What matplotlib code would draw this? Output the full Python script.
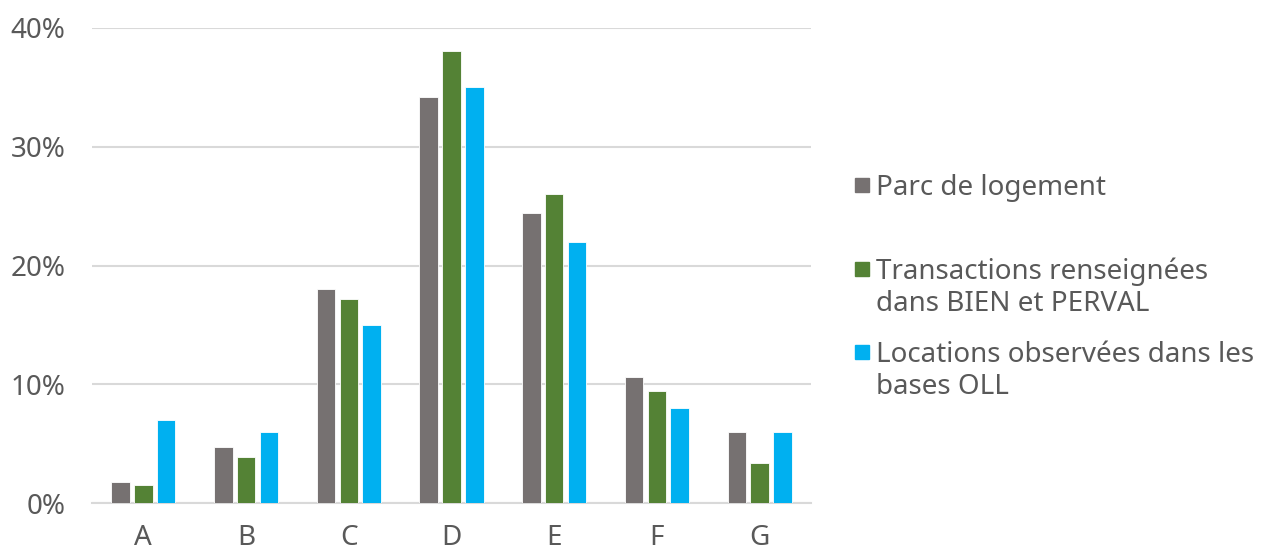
import numpy as np
import matplotlib
matplotlib.use("Agg")
import matplotlib.pyplot as plt
from matplotlib.patches import Rectangle

categories = ["A", "B", "C", "D", "E", "F", "G"]
parc = [1.8, 4.7, 18.0, 34.2, 24.4, 10.6, 6.0]
transactions = [1.5, 3.9, 17.2, 38.1, 26.0, 9.4, 3.4]
locations = [7.0, 6.0, 15.0, 35.0, 22.0, 8.0, 6.0]
series_labels = ["Parc de logement",
                 "Transactions renseignées\ndans BIEN et PERVAL",
                 "Locations observées dans les\nbases OLL"]
yticks = [0, 10, 20, 30, 40]

COLORS = ["#767171", "#548235", "#00B0F0"]
TXT = "#595959"
plt.rcParams["font.family"] = ["Noto Sans", "DejaVu Sans"]

fig = plt.figure(figsize=(12.68, 5.5), dpi=100)
ax = fig.add_axes([92 / 1268, 1 - 503 / 550, (811 - 92) / 1268, (503 - 28) / 550])

x = np.arange(len(categories))
w, step = 0.18, 0.222
for i, (vals, c) in enumerate(zip([parc, transactions, locations], COLORS)):
    ax.bar(x + (i - 1) * step, vals, w, color=c, edgecolor="white",
           linewidth=0.6, zorder=3)

ax.set_xlim(-0.5, len(categories) - 0.5)
ax.set_ylim(0, 40)
ax.set_yticks(yticks)
ax.set_yticklabels([f"{t}%" for t in yticks])
ax.set_xticks(x)
ax.set_xticklabels(categories)
ax.tick_params(length=0, labelsize=20, colors=TXT)
ax.tick_params(axis="y", pad=19)
ax.tick_params(axis="x", pad=15)
ax.yaxis.grid(True, color="#D9D9D9", lw=1.5, zorder=0)
for s in ["top", "right", "left"]:
    ax.spines[s].set_visible(False)
ax.spines["bottom"].set_color("#D9D9D9")
ax.spines["bottom"].set_linewidth(1.5)

# legend drawn by hand: marker on the first line, text block below
entries = [(185, 188, 0), (269, 288, 1), (352, 371, 2)]
for ysq, ytx, i in entries:
    fig.patches.append(Rectangle((855 / 1268, 1 - (ysq + 7) / 550), 14 / 1268, 14 / 550,
                                 transform=fig.transFigure, color=COLORS[i]))
    fig.text(876 / 1268, 1 - ytx / 550, series_labels[i], ha="left", va="center",
             fontsize=20, color=TXT, linespacing=1.18)

fig.savefig("out.png", dpi=100)
